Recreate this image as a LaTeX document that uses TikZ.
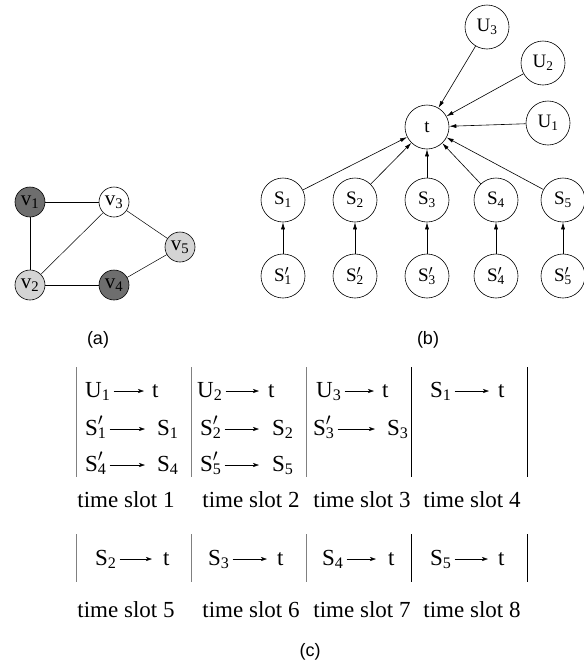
\documentclass[tikz,border=0pt]{standalone}
\usepackage{fontspec}
\setmainfont{Liberation Serif}
\newfontfamily\capfont{Liberation Sans}
\usetikzlibrary{arrows.meta}
\definecolor{darkv}{HTML}{6E6E6E}
\definecolor{lightv}{HTML}{D4D4D4}
\newcommand{\Sp}[1]{S\rlap{$^{\prime}$}\textsubscript{#1}}

\begin{document}
\begin{tikzpicture}[x=1pt,y=-1pt]
\tikzstyle{every node}=[inner sep=0pt];
\tikzstyle{vert}=[draw,shape=circle,minimum size=30pt,line width=0.6pt,font=\fontsize{21}{24}\selectfont];
\tikzstyle{flow}=[draw,shape=circle,minimum size=44pt,line width=0.6pt,font=\fontsize{19}{22}\selectfont];
\tikzstyle{slot}=[anchor=base west,font=\fontsize{23}{27}\selectfont];
\tikzstyle{slotname}=[anchor=base,font=\fontsize{23}{27}\selectfont];
\tikzstyle{figlabel}=[font=\capfont\fontsize{18}{21}\selectfont];
\tikzstyle{arr}=[-{Latex[length=7pt,width=4pt]},line width=0.6pt];
\tikzstyle{tarr}=[-{Stealth[length=6pt,width=4pt,inset=1.5pt]},line width=0.5pt,shorten <=3pt];
\useasboundingbox (0,0) rectangle (584,662);

  % (a)
  \node[vert,fill=darkv] (v1) at (30,202) {v\textsubscript{1}};
  \node[vert,fill=white] (v3) at (114,202) {v\textsubscript{3}};
  \node[vert,fill=lightv] (v5) at (180,247) {v\textsubscript{5}};
  \node[vert,fill=lightv] (v2) at (30,285) {v\textsubscript{2}};
  \node[vert,fill=darkv] (v4) at (114,285) {v\textsubscript{4}};
\foreach \from/\to in {v1/v3, v1/v2, v2/v3, v2/v4, v3/v5, v4/v5}
\draw [line width=0.5pt] (\from) -- (\to);
  \node[figlabel] (capa) at (98,340) {(a)};

  % (b)
  \node[flow] (t) at (427,127) {t};
  \node[flow] (u3) at (487,27) {U\textsubscript{3}};
  \node[flow] (u2) at (543,63) {U\textsubscript{2}};
  \node[flow] (u1) at (548,123) {U\textsubscript{1}};
\foreach \i/\x in {1/283, 2/355, 3/427, 4/496, 5/563} {
  \node[flow] (s\i) at (\x,200) {S\textsubscript{\i}};
  \node[flow] (sp\i) at (\x,276) {\Sp{\i}};
  \draw [arr] (sp\i) -- (s\i);
  \draw [arr] (s\i) -- (t);
}
\foreach \from in {u1, u2, u3}
\draw [arr] (\from) -- (t);
  \node[figlabel] (capb) at (428,340) {(b)};

  % (c)
\foreach \x/\c in {76/gray, 191/gray, 306/gray, 411/black, 527/black} {
  \draw [\c,line width=0.7pt] (\x,367) -- (\x,477);
  \draw [\c,line width=0.7pt] (\x,534) -- (\x,582);
}
\foreach \n/\x/\y/\txt in {
  a1/85/397/U\textsubscript{1}, b1/152/397/t, a2/197/397/U\textsubscript{2}, b2/268/397/t,
  a3/316/397/U\textsubscript{3}, b3/382/397/t, a4/430/397/S\textsubscript{1}, b4/498/397/t,
  c1/85/435/\Sp{1}, d1/157/435/S\textsubscript{1}, c2/200/435/\Sp{2}, d2/272/435/S\textsubscript{2},
  c3/313/435/\Sp{3}, d3/387/435/S\textsubscript{3},
  e1/85/471/\Sp{4}, f1/157/471/S\textsubscript{4}, e2/200/471/\Sp{5}, f2/272/471/S\textsubscript{5},
  g1/95/565/S\textsubscript{2}, h1/163/565/t, g2/208/565/S\textsubscript{3}, h2/277/565/t,
  g3/322/565/S\textsubscript{4}, h3/388/565/t, g4/430/565/S\textsubscript{5}, h4/498/565/t}
  \node[slot] (\n) at (\x,\y) {\txt};
\foreach \from/\to/\gap in {a1/b1/8, a2/b2/9, a3/b3/8, a4/b4/9,
  c1/d1/12, c2/d2/13, c3/d3/12, e1/f1/12, e2/f2/13,
  g1/h1/11, g2/h2/10, g3/h3/12, g4/h4/10}
\draw [tarr,shorten >=\gap pt] ([yshift=6pt]\from.base east) -- ([yshift=6pt]\to.base west);
\foreach \i/\x in {1/126, 2/251, 3/362, 4/472}
  \node[slotname] (ts\i) at (\x,507) {time slot \i};
\foreach \i/\x in {5/126, 6/251, 7/362, 8/472}
  \node[slotname] (ts\i) at (\x,617) {time slot \i};
  \node[figlabel] (capc) at (310,652) {(c)};

\end{tikzpicture}
\end{document}
